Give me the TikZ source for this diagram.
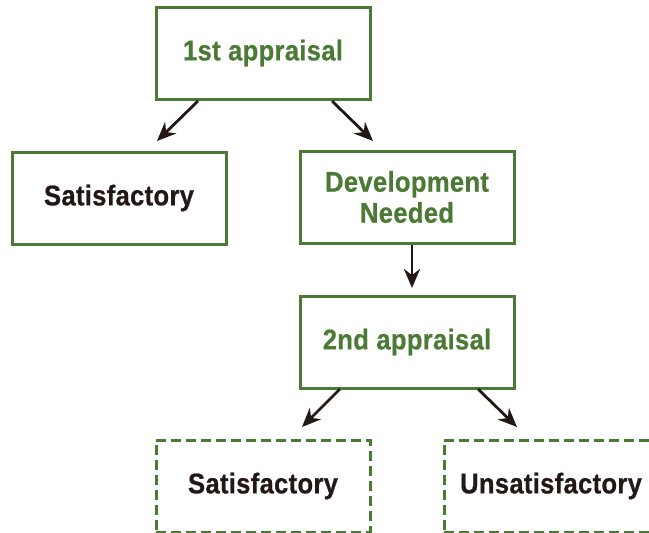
\documentclass[tikz,border=0pt]{standalone}
\usepackage{fontspec}
\setmainfont{Liberation Sans}
\newfontfamily\boxfont[FakeStretch=0.9,FakeBold=0.6,LetterSpace=1]{Liberation Sans Bold}
\usetikzlibrary{arrows.meta}
\definecolor{boxgreen}{RGB}{74,122,52}
\definecolor{darktext}{RGB}{35,24,21}
\begin{document}
\begin{tikzpicture}[x=1pt,y=-1pt,
  box/.style={draw=boxgreen,line width=3pt,minimum width=214pt,minimum height=92pt,inner sep=0pt,align=center,font=\boxfont\fontsize{28.5}{31}\selectfont},
  dashbox/.style={box,dash pattern=on 10pt off 5pt},
  greentext/.style={text=boxgreen},
  blacktext/.style={text=darktext},
  arr/.style={draw=darktext,line width=2.8pt,-{Stealth[length=19pt,width=16pt]}}]
\useasboundingbox (0,0) rectangle (649,533);
\node[box,greentext] (n1) at (263,53) {1st appraisal};
\node[box,blacktext] (sat1) at (119,198) {Satisfactory};
\node[box,greentext] (dev) at (407,197) {Development\\Needed};
\node[box,greentext] (app2) at (407,342) {2nd appraisal};
\node[dashbox,blacktext] (sat2) at (263,486) {Satisfactory};
\node[dashbox,blacktext] (unsat) at (551,486) {Unsatisfactory};
\coordinate (a1s) at (198,101);
\coordinate (a1e) at (157,141);
\coordinate (a2s) at (332,101);
\coordinate (a2e) at (373,141);
\coordinate (a3s) at (412,245);
\coordinate (a3e) at (412,288);
\coordinate (a4s) at (340,389);
\coordinate (a4e) at (302,427);
\coordinate (a5s) at (478,389);
\coordinate (a5e) at (517,427);
\draw[arr] (a1s) -- (a1e);
\draw[arr] (a2s) -- (a2e);
\draw[arr] (a3s) -- (a3e);
\draw[arr] (a4s) -- (a4e);
\draw[arr] (a5s) -- (a5e);
\end{tikzpicture}
\end{document}
